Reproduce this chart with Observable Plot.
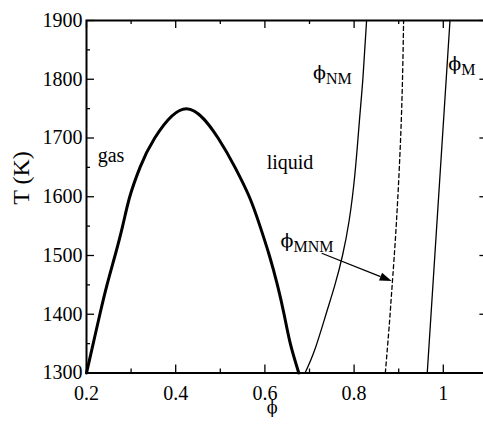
<!DOCTYPE html>
<html>
<head>
<meta charset="utf-8">
<script src="https://cdn.jsdelivr.net/npm/d3@7"></script>
<script src="https://cdn.jsdelivr.net/npm/@observablehq/plot@0.6"></script>
<style>
  html, body { margin: 0; padding: 0; background: #fff; overflow: hidden; }
  #chart svg { display: block; }
</style>
</head>
<body>
<div id="chart"></div>
<script>
// Gas–liquid coexistence curve (binodal), volume fraction phi vs temperature T (K)
const binodalPhi = [0.200, 0.215, 0.230, 0.246, 0.264, 0.281, 0.297, 0.320, 0.353, 0.424,
                    0.495, 0.533, 0.565, 0.589, 0.610, 0.628, 0.643, 0.657, 0.676];
const binodalT   = [1300, 1350, 1400, 1450, 1500, 1550, 1600, 1650, 1700, 1750,
                    1700, 1650, 1600, 1550, 1500, 1450, 1400, 1350, 1300];

// Non-metal boundary phi_NM
const nmPhi = [0.690, 0.712, 0.737, 0.757, 0.774, 0.789, 0.802, 0.812, 0.820, 0.828];
const nmT   = [1300, 1340, 1400, 1450, 1500, 1560, 1640, 1730, 1804, 1900];

// Metal / non-metal transition phi_MNM (dashed)
const mnmPhi = [0.870, 0.879, 0.885, 0.895, 0.906, 0.911];
const mnmT   = [1300, 1383, 1446, 1558, 1734, 1900];

// Metal boundary phi_M
const mPhi = [0.964, 1.015];
const mT   = [1300, 1900];

// Region names and curve labels (anchor in phi, T)
const regionNames = ["gas", "liquid"];
const regionPhi   = [0.225, 0.604];
const regionT     = [1660, 1648];

const curveSymbols = ["ϕ", "ϕ", "ϕ"];
const curveSubs    = ["NM", "M", "MNM"];
const curvePhi     = [0.708, 1.011, 0.635];
const curveT       = [1800, 1815, 1515];

// Pointer from the phi_MNM label to its curve
const arrowFrom = {phi: 0.7285, T: 1503};
const arrowTo   = {phi: 0.8854, T: 1455.7};

// Ticks
const xMajor = [0.2, 0.4, 0.6, 0.8, 1.0];
const xMajorLabels = ["0.2", "0.4", "0.6", "0.8", "1"];
const xMinor = [0.3, 0.5, 0.7, 0.9, 1.1];
const yMajor = [1300, 1400, 1500, 1600, 1700, 1800, 1900];
const yMajorLabels = ["1300", "1400", "1500", "1600", "1700", "1800", "1900"];
const yMinor = [1350, 1450, 1550, 1650, 1750, 1850];

const zip = (xs, ys) => xs.map((x, i) => ({phi: x, T: ys[i]}));
const binodal = zip(binodalPhi, binodalT);
const nm = zip(nmPhi, nmT);
const mnm = zip(mnmPhi, mnmT);
const metal = zip(mPhi, mT);
const regions = regionNames.map((name, i) => ({name, phi: regionPhi[i], T: regionT[i]}));
const curveLabels = curveSymbols.map((s, i) => ({s, sub: curveSubs[i], phi: curvePhi[i], T: curveT[i]}));

// The frame runs to phi = 1.1, a few pixels past the right edge of the page
const W = 483, H = 424;
const mL = 86, mR = -4.4, mT_ = 20, mB = 51.5;
const innerW = W - mL - mR, innerH = H - mT_ - mB;
const serif = "Liberation Serif";
const phiFont = "DejaVu Serif";

// Filled arrowhead drawn in screen space from the x/y scales
function arrowMark(index, scales) {
  const x0 = scales.x(arrowFrom.phi), y0 = scales.y(arrowFrom.T);
  const x1 = scales.x(arrowTo.phi), y1 = scales.y(arrowTo.T);
  const len = Math.hypot(x1 - x0, y1 - y0);
  const ux = (x1 - x0) / len, uy = (y1 - y0) / len;
  const headL = 12, headW = 4.2;
  const bx = x1 - ux * headL, by = y1 - uy * headL;
  const ns = "http://www.w3.org/2000/svg";
  const g = document.createElementNS(ns, "g");
  const line = document.createElementNS(ns, "path");
  line.setAttribute("d", `M${x0},${y0}L${bx},${by}`);
  line.setAttribute("stroke", "black");
  line.setAttribute("stroke-width", 1.3);
  line.setAttribute("fill", "none");
  const head = document.createElementNS(ns, "path");
  head.setAttribute("d", `M${x1},${y1}L${bx - uy * headW},${by + ux * headW}L${bx + uy * headW},${by - ux * headW}Z`);
  head.setAttribute("fill", "black");
  g.appendChild(line);
  g.appendChild(head);
  return g;
}

const majorLen = 8, minorLen = 4;
const tickStyle = {strokeWidth: 1.3, stroke: "black"};

const chart = Plot.plot({
  width: W,
  height: H,
  marginLeft: mL,
  marginRight: mR,
  marginTop: mT_,
  marginBottom: mB,
  x: {domain: [0.2, 1.1], axis: null},
  y: {domain: [1300, 1900], axis: null},
  style: {fontFamily: serif, fontSize: "20px", background: "white", color: "black"},
  marks: [
    // inward ticks on all four sides
    Plot.tickX(xMajor, {x: d => d, insetTop: innerH - majorLen, ...tickStyle}),
    Plot.tickX(xMajor, {x: d => d, insetBottom: innerH - majorLen, ...tickStyle}),
    Plot.tickX(xMinor, {x: d => d, insetTop: innerH - minorLen, ...tickStyle}),
    Plot.tickX(xMinor, {x: d => d, insetBottom: innerH - minorLen, ...tickStyle}),
    Plot.tickY(yMajor, {y: d => d, insetRight: innerW - majorLen, ...tickStyle}),
    Plot.tickY(yMajor, {y: d => d, insetLeft: innerW - majorLen, ...tickStyle}),
    Plot.tickY(yMinor, {y: d => d, insetRight: innerW - minorLen, ...tickStyle}),
    Plot.tickY(yMinor, {y: d => d, insetLeft: innerW - minorLen, ...tickStyle}),
    // tick labels
    Plot.text(xMajor, {x: d => d, text: (d, i) => xMajorLabels[i], frameAnchor: "bottom",
                       lineAnchor: "bottom", dy: 27, fontSize: 20}),
    Plot.text(yMajor, {y: d => d, text: (d, i) => yMajorLabels[i], frameAnchor: "left",
                       textAnchor: "end", lineAnchor: "middle", dx: -4, fontSize: 20}),
    // curves
    Plot.line(binodal, {x: "phi", y: "T", curve: "natural", strokeWidth: 3, stroke: "black"}),
    Plot.line(nm, {x: "phi", y: "T", curve: "natural", strokeWidth: 1.3, stroke: "black"}),
    Plot.line(mnm, {x: "phi", y: "T", curve: "natural", strokeWidth: 1.3, stroke: "black", strokeDasharray: "4,3"}),
    Plot.line(metal, {x: "phi", y: "T", strokeWidth: 1.3, stroke: "black"}),
    arrowMark,
    // region names
    Plot.text(regions, {x: "phi", y: "T", text: "name", textAnchor: "start", lineAnchor: "bottom", fontSize: 20}),
    // curve labels: symbol with subscript
    Plot.text(curveLabels, {x: "phi", y: "T", text: "s", textAnchor: "start", lineAnchor: "bottom",
                            fontSize: 19, fontFamily: phiFont}),
    Plot.text(curveLabels, {x: "phi", y: "T", text: "sub", textAnchor: "start", lineAnchor: "bottom",
                            fontSize: 16, dx: 13, dy: 5}),
    // axis titles
    Plot.text(["T (K)"], {text: d => d, frameAnchor: "left", rotate: -90, dx: -65, dy: 8, fontSize: 24}),
    Plot.text(["ϕ"], {text: d => d, frameAnchor: "bottom", dx: -15, dy: 40, lineAnchor: "bottom",
                      fontSize: 16, fontFamily: phiFont}),
    Plot.frame({strokeWidth: 2, stroke: "black"})
  ]
});

document.getElementById("chart").appendChild(chart);
</script>
</body>
</html>
